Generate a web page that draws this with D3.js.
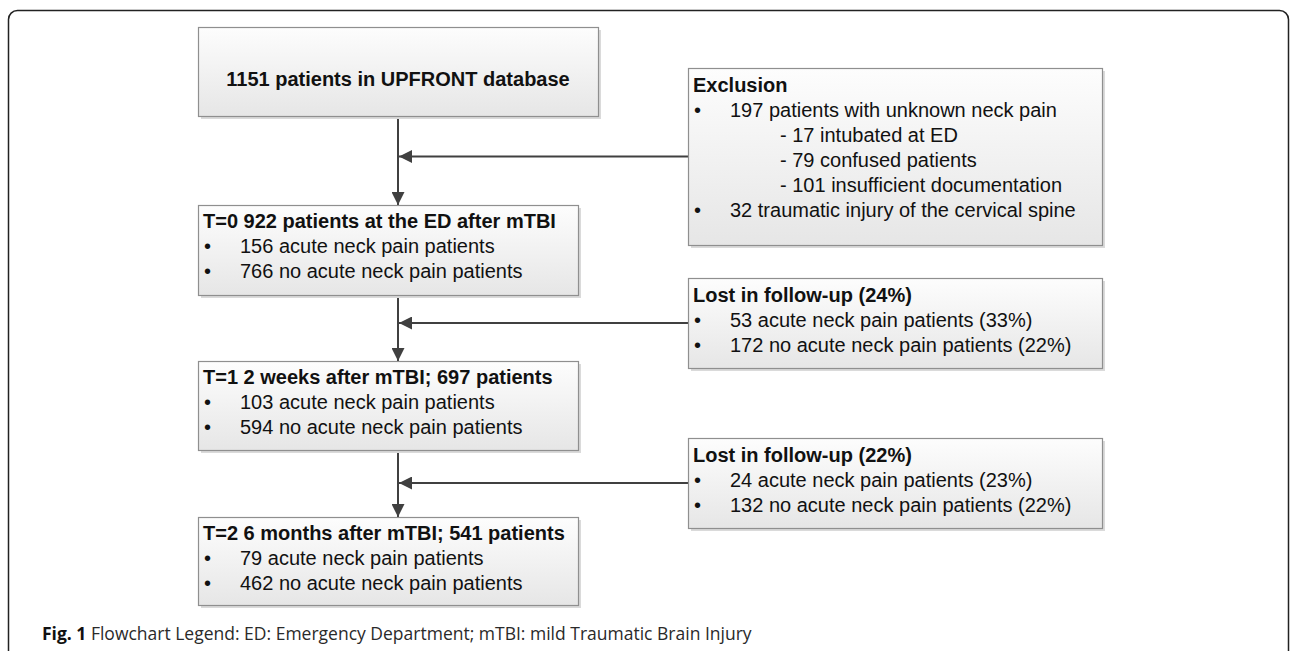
<!DOCTYPE html>
<html lang="en">
<head>
<meta charset="UTF-8">
<title>Flowchart</title>
<script src="https://d3js.org/d3.v7.min.js"></script>
<style>
  html, body { margin: 0; padding: 0; background: #fff; }
  svg { display: block; }
  .box-text { font-family: Arial, "Liberation Sans", sans-serif; font-size: 20px; fill: #111; }
  .caption { font-family: "Open Sans", sans-serif; font-size: 17.5px; fill: #2a2a2a; }
</style>
</head>
<body>
<div id="chart"></div>
<script>
// left column: study stages
const stageTitles = [
  "1151 patients in UPFRONT database",
  "T=0 922 patients at the ED after mTBI",
  "T=1 2 weeks after mTBI; 697 patients",
  "T=2 6 months after mTBI; 541 patients"
];
const stageBullets = [
  [],
  ["156 acute neck pain patients", "766 no acute neck pain patients"],
  ["103 acute neck pain patients", "594 no acute neck pain patients"],
  ["79 acute neck pain patients", "462 no acute neck pain patients"]
];

// right column: exclusions / loss to follow-up
const sideTitles = ["Exclusion", "Lost in follow-up (24%)", "Lost in follow-up (22%)"];
const sideLines = [
  [
    { level: 1, text: "197 patients with unknown neck pain" },
    { level: 2, text: "- 17 intubated at ED" },
    { level: 2, text: "- 79 confused patients" },
    { level: 2, text: "- 101 insufficient documentation" },
    { level: 1, text: "32 traumatic injury of the cervical spine" }
  ],
  [
    { level: 1, text: "53 acute neck pain patients (33%)" },
    { level: 1, text: "172 no acute neck pain patients (22%)" }
  ],
  [
    { level: 1, text: "24 acute neck pain patients (23%)" },
    { level: 1, text: "132 no acute neck pain patients (22%)" }
  ]
];

const captionBold = "Fig. 1";
const captionText = " Flowchart Legend: ED: Emergency Department; mTBI: mild Traumatic Brain Injury";

// layout
const width = 1290, height = 651;
const spineX = 398;
const stageBoxes = [
  { x: 198, y: 27,  w: 400, h: 89 },
  { x: 198, y: 205, w: 380, h: 90 },
  { x: 198, y: 361, w: 380, h: 89 },
  { x: 198, y: 517, w: 380, h: 88 }
];
const sideBoxes = [
  { x: 688, y: 68,  w: 414, h: 177 },
  { x: 688, y: 278, w: 414, h: 90 },
  { x: 688, y: 438, w: 414, h: 90 }
];
const lineStep = 25;

const svg = d3.select("#chart").append("svg")
  .attr("width", width)
  .attr("height", height);

const defs = svg.append("defs");
const grad = defs.append("linearGradient")
  .attr("id", "boxFill")
  .attr("x1", 0).attr("y1", 0).attr("x2", 0).attr("y2", 1);
grad.append("stop").attr("offset", "0%").attr("stop-color", "#fdfdfd");
grad.append("stop").attr("offset", "100%").attr("stop-color", "#e6e6e6");

defs.append("marker")
  .attr("id", "arrow")
  .attr("viewBox", "0 0 10 10")
  .attr("refX", 10).attr("refY", 5)
  .attr("markerUnits", "userSpaceOnUse")
  .attr("markerWidth", 13).attr("markerHeight", 13)
  .attr("orient", "auto")
  .append("path")
  .attr("d", "M0,0 L10,5 L0,10 z")
  .attr("fill", "#404040");

// outer frame
svg.append("rect")
  .attr("x", 8.5).attr("y", 10.5)
  .attr("width", 1280).attr("height", 700)
  .attr("rx", 9)
  .attr("fill", "none")
  .attr("stroke", "#222")
  .attr("stroke-width", 1.5);

// connectors
const links = svg.append("g");
stageBoxes.slice(1).forEach((b, i) => {
  const prev = stageBoxes[i];
  links.append("line")
    .attr("x1", spineX).attr("y1", prev.y + prev.h)
    .attr("x2", spineX).attr("y2", b.y)
    .attr("stroke", "#404040").attr("stroke-width", 2)
    .attr("marker-end", "url(#arrow)");
});
sideBoxes.forEach(b => {
  const cy = b.y + b.h / 2;
  links.append("line")
    .attr("x1", b.x).attr("y1", cy)
    .attr("x2", spineX + 1).attr("y2", cy)
    .attr("stroke", "#404040").attr("stroke-width", 2)
    .attr("marker-end", "url(#arrow)");
});

function drawBox(b) {
  const g = svg.append("g");
  g.append("rect")
    .attr("x", b.x + 3).attr("y", b.y + 3)
    .attr("width", b.w).attr("height", b.h)
    .attr("fill", "#dadada");
  g.append("rect")
    .attr("x", b.x + 0.5).attr("y", b.y + 0.5)
    .attr("width", b.w).attr("height", b.h)
    .attr("fill", "url(#boxFill)")
    .attr("stroke", "#8f8f8f")
    .attr("stroke-width", 1.2);
  return g;
}

// stage boxes
stageBoxes.forEach((b, i) => {
  const g = drawBox(b);
  if (i === 0) {
    g.append("text").attr("class", "box-text")
      .attr("x", b.x + b.w / 2).attr("y", b.y + 59)
      .attr("text-anchor", "middle")
      .attr("font-weight", "bold")
      .text(stageTitles[i]);
    return;
  }
  g.append("text").attr("class", "box-text")
    .attr("x", b.x + 5).attr("y", b.y + 23)
    .attr("font-weight", "bold")
    .text(stageTitles[i]);
  stageBullets[i].forEach((t, j) => {
    const y = b.y + 23 + (j + 1) * lineStep;
    g.append("text").attr("class", "box-text")
      .attr("x", b.x + 6).attr("y", y).text("\u2022");
    g.append("text").attr("class", "box-text")
      .attr("x", b.x + 42).attr("y", y).text(t);
  });
});

// side boxes
sideBoxes.forEach((b, i) => {
  const g = drawBox(b);
  g.append("text").attr("class", "box-text")
    .attr("x", b.x + 5).attr("y", b.y + 24)
    .attr("font-weight", "bold")
    .text(sideTitles[i]);
  sideLines[i].forEach((d, j) => {
    const y = b.y + 24 + (j + 1) * lineStep;
    if (d.level === 1) {
      g.append("text").attr("class", "box-text")
        .attr("x", b.x + 6).attr("y", y).text("\u2022");
      g.append("text").attr("class", "box-text")
        .attr("x", b.x + 42).attr("y", y).text(d.text);
    } else {
      g.append("text").attr("class", "box-text")
        .attr("x", b.x + 92).attr("y", y).text(d.text);
    }
  });
});

// caption
const cap = svg.append("text").attr("class", "caption")
  .attr("x", 42).attr("y", 640);
cap.append("tspan").attr("font-weight", "bold").attr("fill", "#111").text(captionBold);
cap.append("tspan").text(captionText);
</script>
</body>
</html>
